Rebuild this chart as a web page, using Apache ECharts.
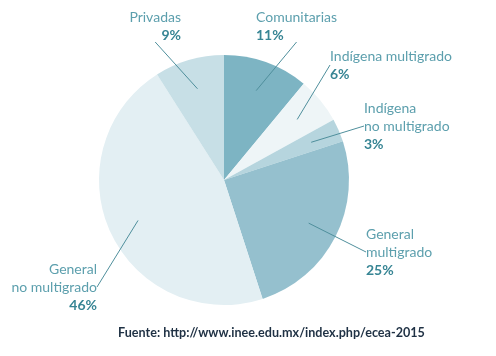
<!DOCTYPE html>
<html><head><meta charset="utf-8">
<script src="https://cdn.jsdelivr.net/npm/echarts@6/dist/echarts.min.js"></script>
<style>html,body{margin:0;padding:0;background:#fff}#c{width:496px;height:356px}</style>
</head><body><div id="c"></div>
<script>
const categories = ['Comunitarias', 'Indígena multigrado', 'Indígena no multigrado', 'General multigrado', 'General no multigrado', 'Privadas'];
const labelNames = ['Comunitarias', 'Indígena multigrado', 'Indígena\nno multigrado', 'General\nmultigrado', 'General\nno multigrado', 'Privadas'];
const values = [11, 6, 3, 25, 46, 9];
const sourceText = 'Fuente: http://www.inee.edu.mx/index.php/ecea-2015';

const colors = ['#7db4c3', '#eef5f7', '#b6d5de', '#95c0ce', '#e3eff3', '#c7dfe6'];
const labelPlace = [
  {x: 256, y: 8, align: 'left'},
  {x: 330, y: 47, align: 'left'},
  {x: 364, y: 99, align: 'left'},
  {x: 366, y: 225, align: 'left'},
  {x: 97, y: 260, align: 'right'},
  {x: 181, y: 8, align: 'right'}
];
const FONT = 'Lato';
const chart = echarts.init(document.getElementById('c'), null, {renderer: 'canvas'});
const pieData = categories.map((c, i) => ({name: c, value: values[i], itemStyle: {color: colors[i]}}));
const labelData = categories.map((c, i) => ({name: c, value: values[i], label: {align: labelPlace[i].align,
  rich: {n: {fontFamily: FONT, fontSize: 14, color: '#5c9fad', lineHeight: 18, align: labelPlace[i].align},
         p: {fontFamily: FONT, fontSize: 14, fontWeight: 'bold', color: '#378594', lineHeight: 18, align: labelPlace[i].align}}}}));
chart.setOption({
  animation: false,
  title: {text: sourceText, left: 113, top: 321, textStyle: {fontFamily: FONT, fontSize: 12.6, fontWeight: 'bold', color: '#1f3144'}},
  series: [
    {type: 'pie', center: [224, 180], radius: 125, startAngle: 90, clockwise: true, silent: true,
     label: {show: false}, labelLine: {show: false}, data: pieData},
    {type: 'pie', center: [224, 180], radius: 95, startAngle: 90, clockwise: true, silent: true, z: 5,
     itemStyle: {color: 'rgba(0,0,0,0)'},
     label: {show: true, position: 'outside', formatter: p => '{n|' + labelNames[p.dataIndex] + '}\n{p|' + p.value + '%}'},
     labelLine: {show: true, length: 10, length2: 0, lineStyle: {color: '#4f8f9c', width: 1}},
     labelLayout: function (params) {
       const lp = labelPlace[params.dataIndex];
       return {x: lp.x, y: lp.y, align: lp.align, verticalAlign: 'top'};
     },
     data: labelData}
  ]
});
</script></body></html>
